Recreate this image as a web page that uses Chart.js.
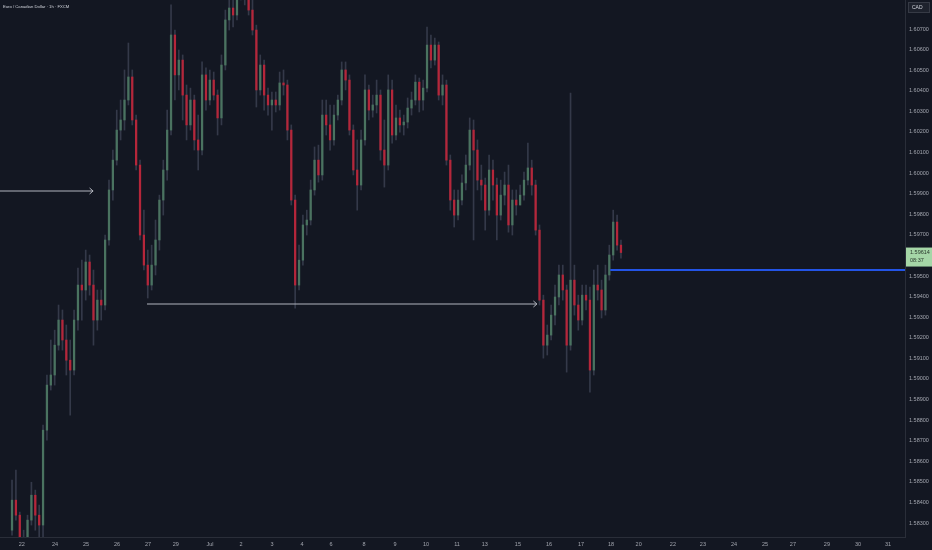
<!DOCTYPE html>
<html>
<head>
<meta charset="utf-8">
<script src="https://cdn.jsdelivr.net/npm/chart.js@4.4.1/dist/chart.umd.min.js"></script>
<style>
  html, body { margin: 0; padding: 0; background: #131722; }
  #chart { display: block; }
</style>
</head>
<body>
<canvas id="chart" width="932" height="550"></canvas>
<script>
// --- Datos (EURCAD 1h, velas de 3 horas) ---
const symbolTitle = 'Euro / Canadian Dollar · 1h · FXCM';
const quoteCurrency = 'CAD';
const lastPrice = 1.59614;
const countdown = '08:37';

const FIRST_HOUR = 9.3;   // hora de la primera vela
const CANDLE_HOURS = 3;   // horas por vela

const opens = [
  1.58265,1.58411,1.58338,1.58217,1.58192,1.58314,1.58435,1.58338,1.58290,1.58751,
  1.58970,1.59019,1.59164,1.59286,1.59189,1.59091,1.59043,1.59286,1.59456,1.59432,
  1.59568,1.59456,1.59286,1.59383,1.59359,1.59675,1.59918,1.60063,1.60209,1.60258,
  1.60355,1.60467,1.60258,1.60039,1.59699,1.59553,1.59456,1.59553,1.59675,1.59869,
  1.60015,1.60209,1.60671,1.60477,1.60549,1.60379,1.60234,1.60355,1.60161,1.60112,
  1.60477,1.60355,1.60452,1.60379,1.60268,1.60525,1.60744,1.60802,1.60768,1.60865,
  1.60890,1.60865,1.60792,1.60695,1.60404,1.60525,1.60379,1.60331,1.60355,1.60331,
  1.60438,1.60428,1.60209,1.59869,1.59456,1.59577,1.59748,1.59772,1.59918,1.60063,
  1.59991,1.60282,1.60234,1.60161,1.60282,1.60355,1.60501,1.60452,1.60209,1.60015,
  1.59942,1.60161,1.60404,1.60306,1.60331,1.60379,1.60112,1.60039,1.60404,1.60185,
  1.60268,1.60234,1.60248,1.60316,1.60355,1.60442,1.60355,1.60413,1.60622,1.60549,
  1.60622,1.60379,1.60428,1.60063,1.59869,1.59796,1.59869,1.59952,1.60039,1.60209,
  1.60112,1.59966,1.59942,1.59820,1.60015,1.59942,1.59796,1.59893,1.59942,1.59748,
  1.59869,1.59845,1.59893,1.59966,1.60025,1.59942,1.59723,1.59383,1.59164,1.59213,
  1.59310,1.59398,1.59505,1.59432,1.59164,1.59480,1.59359,1.59286,1.59407,1.59383,
  1.59043,1.59456,1.59432,1.59335,1.59505,1.59602,1.59762,1.59650
];
const highs = [
  1.58508,1.58557,1.58353,1.58265,1.58338,1.58498,1.58460,1.58387,1.58776,1.59019,
  1.59189,1.59237,1.59359,1.59335,1.59262,1.59189,1.59335,1.59539,1.59577,1.59626,
  1.59602,1.59529,1.59432,1.59432,1.59699,1.59966,1.60112,1.60306,1.60355,1.60501,
  1.60632,1.60501,1.60282,1.60063,1.59820,1.59626,1.59650,1.59772,1.59893,1.60063,
  1.60306,1.60817,1.60695,1.60598,1.60574,1.60428,1.60413,1.60379,1.60282,1.60540,
  1.60511,1.60501,1.60491,1.60404,1.60574,1.60792,1.60841,1.60841,1.60914,1.60938,
  1.60938,1.60890,1.60841,1.60719,1.60574,1.60549,1.60413,1.60394,1.60394,1.60491,
  1.60501,1.60452,1.60234,1.59893,1.59650,1.59796,1.59820,1.59966,1.60127,1.60136,
  1.60355,1.60355,1.60331,1.60331,1.60379,1.60540,1.60540,1.60477,1.60234,1.60161,
  1.60209,1.60477,1.60428,1.60379,1.60452,1.60404,1.60258,1.60477,1.60452,1.60331,
  1.60306,1.60282,1.60365,1.60394,1.60477,1.60462,1.60452,1.60710,1.60671,1.60656,
  1.60637,1.60477,1.60452,1.60088,1.59918,1.59918,1.59991,1.60088,1.60268,1.60258,
  1.60161,1.60039,1.59976,1.60088,1.60063,1.59976,1.59966,1.60005,1.60039,1.59918,
  1.59918,1.59942,1.60005,1.60146,1.60063,1.59966,1.59748,1.59407,1.59262,1.59359,
  1.59456,1.59553,1.59553,1.59456,1.60389,1.59553,1.59407,1.59456,1.59456,1.59446,
  1.59529,1.59553,1.59480,1.59553,1.59650,1.59820,1.59796,1.59675
];
const lows = [
  1.58241,1.58314,1.58178,1.58144,1.58168,1.58290,1.58265,1.58217,1.58231,1.58703,
  1.58946,1.58970,1.59140,1.59140,1.59019,1.58824,1.59019,1.59237,1.59286,1.59383,
  1.59407,1.59164,1.59237,1.59286,1.59335,1.59650,1.59869,1.60039,1.60161,1.60209,
  1.60331,1.60234,1.60015,1.59675,1.59529,1.59393,1.59432,1.59505,1.59626,1.59796,
  1.59966,1.60185,1.60355,1.60404,1.60258,1.60161,1.60209,1.60112,1.60015,1.60088,
  1.60306,1.60331,1.60355,1.60185,1.60234,1.60501,1.60695,1.60710,1.60744,1.60841,
  1.60817,1.60768,1.60671,1.60321,1.60379,1.60306,1.60282,1.60209,1.60297,1.60306,
  1.60379,1.60161,1.59845,1.59344,1.59432,1.59553,1.59699,1.59748,1.59893,1.59956,
  1.59966,1.60185,1.60112,1.60136,1.60258,1.60331,1.60404,1.60185,1.59991,1.59820,
  1.59918,1.60136,1.60258,1.60272,1.60292,1.60063,1.59932,1.60015,1.60146,1.60161,
  1.60199,1.60185,1.60219,1.60282,1.60331,1.60297,1.60306,1.60394,1.60511,1.60525,
  1.60355,1.60331,1.60039,1.59820,1.59738,1.59772,1.59845,1.59918,1.60015,1.59675,
  1.59918,1.59869,1.59723,1.59796,1.59869,1.59675,1.59772,1.59845,1.59713,1.59699,
  1.59796,1.59845,1.59869,1.59942,1.59893,1.59699,1.59359,1.59101,1.59116,1.59189,
  1.59262,1.59359,1.59383,1.59033,1.59140,1.59310,1.59237,1.59262,1.59335,1.58936,
  1.59019,1.59383,1.59296,1.59310,1.59480,1.59577,1.59626,1.59587
];
const closes = [
  1.58411,1.58338,1.58217,1.58192,1.58314,1.58435,1.58338,1.58290,1.58751,1.58970,
  1.59019,1.59164,1.59286,1.59189,1.59091,1.59043,1.59286,1.59456,1.59432,1.59568,
  1.59456,1.59286,1.59383,1.59359,1.59675,1.59918,1.60063,1.60209,1.60258,1.60355,
  1.60467,1.60258,1.60039,1.59699,1.59553,1.59456,1.59553,1.59675,1.59869,1.60015,
  1.60209,1.60671,1.60477,1.60549,1.60379,1.60234,1.60355,1.60161,1.60112,1.60477,
  1.60355,1.60452,1.60379,1.60268,1.60525,1.60744,1.60802,1.60768,1.60865,1.60890,
  1.60865,1.60792,1.60695,1.60404,1.60525,1.60379,1.60331,1.60355,1.60331,1.60438,
  1.60428,1.60209,1.59869,1.59456,1.59577,1.59748,1.59772,1.59918,1.60063,1.59991,
  1.60282,1.60234,1.60161,1.60282,1.60355,1.60501,1.60452,1.60209,1.60015,1.59942,
  1.60161,1.60404,1.60306,1.60331,1.60379,1.60112,1.60039,1.60404,1.60185,1.60268,
  1.60234,1.60248,1.60316,1.60355,1.60442,1.60355,1.60413,1.60622,1.60549,1.60622,
  1.60379,1.60428,1.60063,1.59869,1.59796,1.59869,1.59952,1.60039,1.60209,1.60112,
  1.59966,1.59942,1.59820,1.60015,1.59942,1.59796,1.59893,1.59942,1.59748,1.59869,
  1.59845,1.59893,1.59966,1.60025,1.59942,1.59723,1.59383,1.59164,1.59213,1.59310,
  1.59398,1.59505,1.59432,1.59164,1.59480,1.59359,1.59286,1.59407,1.59383,1.59043,
  1.59456,1.59432,1.59335,1.59505,1.59602,1.59762,1.59650,1.59614
];

// Eje de tiempo: etiquetas de dia y su hora (en horas de mercado desde el inicio)
const dayLabels = ['22','24','25','26','27','29','Jul','2','3','4','6','8','9','10','11',
  '13','15','16','17','18','20','22','23','24','25','27','29','30','31'];
const dayHours = [16.8,42.5,66.5,90.5,114.5,136,162.4,186.4,210.4,233.6,256,281.5,305.5,329.5,353.5,
  375,400.6,424.6,449.4,472.6,494,520.5,543.7,567.7,591.7,613.3,639.6,663.6,686.8];

// Eje de precios
const priceTicks = [1.583,1.584,1.585,1.586,1.587,1.588,1.589,1.590,1.591,1.592,1.593,1.594,
  1.595,1.596,1.597,1.598,1.599,1.600,1.601,1.602,1.603,1.604,1.605,1.606,1.607];

// Dibujos: flechas horizontales y linea azul
const arrow1 = { price: 1.59913, from: 0, to: 72 };
const arrow2 = { price: 1.59364, from: 113.7, to: 415.3 };
const blueLine = { price: 1.59529, from: 472, to: 700 };

// --- Colores ---
const BG = '#131722';
const UP = '#4a7360';
const DOWN = '#b5263a';
const WICK = '#343949';
const TEXT = '#a3a6af';
const BORDER = '#2a2e39';
const FONT = '"Liberation Sans", Arial, sans-serif';

const candleHour = i => FIRST_HOUR + i * CANDLE_HOURS;

const wickData = closes.map((c, i) => ({ x: candleHour(i), y: [lows[i], highs[i]] }));
const bodyData = closes.map((c, i) => ({ x: candleHour(i), y: [opens[i], c] }));
const bodyColors = closes.map((c, i) => (c >= opens[i] ? UP : DOWN));

const hLine = (d) => [{ x: d.from, y: d.price }, { x: d.to, y: d.price }];

// Quita el relleno que Chart.js reserva para las etiquetas de los extremos
const noEdgePadding = s => {
  s.paddingTop = 0; s.paddingBottom = 0; s.paddingLeft = 0; s.paddingRight = 0;
};

// Plugin: fondo, titulo, flechas y etiqueta de precio
const decorPlugin = {
  id: 'decor',
  beforeDraw(chart) {
    const { ctx } = chart;
    ctx.save();
    ctx.fillStyle = BG;
    ctx.fillRect(0, 0, chart.width, chart.height);
    ctx.restore();
  },
  afterDatasetsDraw(chart) {
    const { ctx } = chart;
    ctx.save();
    chart.data.datasets.forEach((ds, i) => {
      if (!ds.arrowHead) return;
      const pts = chart.getDatasetMeta(i).data;
      const p = pts[pts.length - 1];
      ctx.strokeStyle = ds.borderColor;
      ctx.lineWidth = 1;
      ctx.beginPath();
      ctx.moveTo(p.x - 3.5, p.y - 3);
      ctx.lineTo(p.x, p.y);
      ctx.lineTo(p.x - 3.5, p.y + 3);
      ctx.stroke();
    });
    ctx.restore();
  },
  afterDraw(chart) {
    const { ctx, chartArea, scales } = chart;
    ctx.save();
    // titulo
    ctx.font = `4.2px ${FONT}`;
    ctx.fillStyle = '#d1d4dc';
    ctx.textBaseline = 'middle';
    ctx.textAlign = 'left';
    ctx.fillText(symbolTitle, 3, 7);

    // caja de moneda
    const bx = chartArea.right + 3;
    ctx.fillStyle = '#1e222d';
    ctx.fillRect(bx, 2, 22, 11);
    ctx.strokeStyle = '#363a45';
    ctx.strokeRect(bx + 0.5, 2.5, 21, 10);
    ctx.fillStyle = '#d1d4dc';
    ctx.font = `5px ${FONT}`;
    ctx.fillText(quoteCurrency, bx + 4, 7.5);

    // etiqueta del ultimo precio
    const y = scales.y.getPixelForValue(lastPrice);
    const lx = chartArea.right + 1;
    ctx.fillStyle = '#a5d6a7';
    ctx.fillRect(lx, y - 5, chart.width - lx, 19);
    ctx.fillStyle = '#2b3a2e';
    ctx.font = `5.5px ${FONT}`;
    ctx.fillText(lastPrice.toFixed(5), lx + 4, y);
    ctx.fillText(countdown, lx + 4, y + 8);
    ctx.restore();
  }
};

new Chart(document.getElementById('chart'), {
  type: 'bar',
  data: {
    datasets: [
      { type: 'line', data: hLine(arrow1), borderColor: '#b2b5be', borderWidth: 1, pointRadius: 0, arrowHead: true, order: 0 },
      { type: 'line', data: hLine(arrow2), borderColor: '#b2b5be', borderWidth: 1, pointRadius: 0, arrowHead: true, order: 0 },
      { type: 'line', data: hLine(blueLine), borderColor: '#2354e6', borderWidth: 2, pointRadius: 0, order: 0 },
      { label: 'wicks', data: wickData, backgroundColor: WICK, barThickness: 1, grouped: false, clip: 0, order: 3 },
      { label: 'bodies', data: bodyData, backgroundColor: bodyColors, barThickness: 1.6, grouped: false, clip: 0, order: 2 }
    ]
  },
  options: {
    responsive: false,
    animation: false,
    layout: { padding: 0 },
    plugins: { legend: { display: false }, tooltip: { enabled: false } },
    scales: {
      x: {
        type: 'linear',
        min: 0,
        max: 700,
        offset: false,
        grid: { display: false, drawTicks: false, tickLength: 0 },
        border: { display: true, color: BORDER },
        afterBuildTicks: s => { s.ticks = dayHours.map(h => ({ value: h })); },
        afterFit: s => { s.height = 13; noEdgePadding(s); },
        ticks: {
          autoSkip: false,
          maxRotation: 0,
          padding: 4,
          color: TEXT,
          font: { size: 5.5, family: FONT },
          callback: (v, i) => dayLabels[i]
        }
      },
      y: {
        position: 'right',
        min: 1.58232,
        max: 1.60841,
        grid: { display: false, drawTicks: false, tickLength: 0 },
        border: { display: true, color: BORDER },
        afterBuildTicks: s => { s.ticks = priceTicks.map(v => ({ value: v })); },
        afterFit: s => { s.width = 27; noEdgePadding(s); },
        ticks: {
          padding: 4,
          crossAlign: 'near',
          color: TEXT,
          font: { size: 5.5, family: FONT },
          callback: v => v.toFixed(5)
        }
      }
    }
  },
  plugins: [decorPlugin]
});
</script>
</body>
</html>
